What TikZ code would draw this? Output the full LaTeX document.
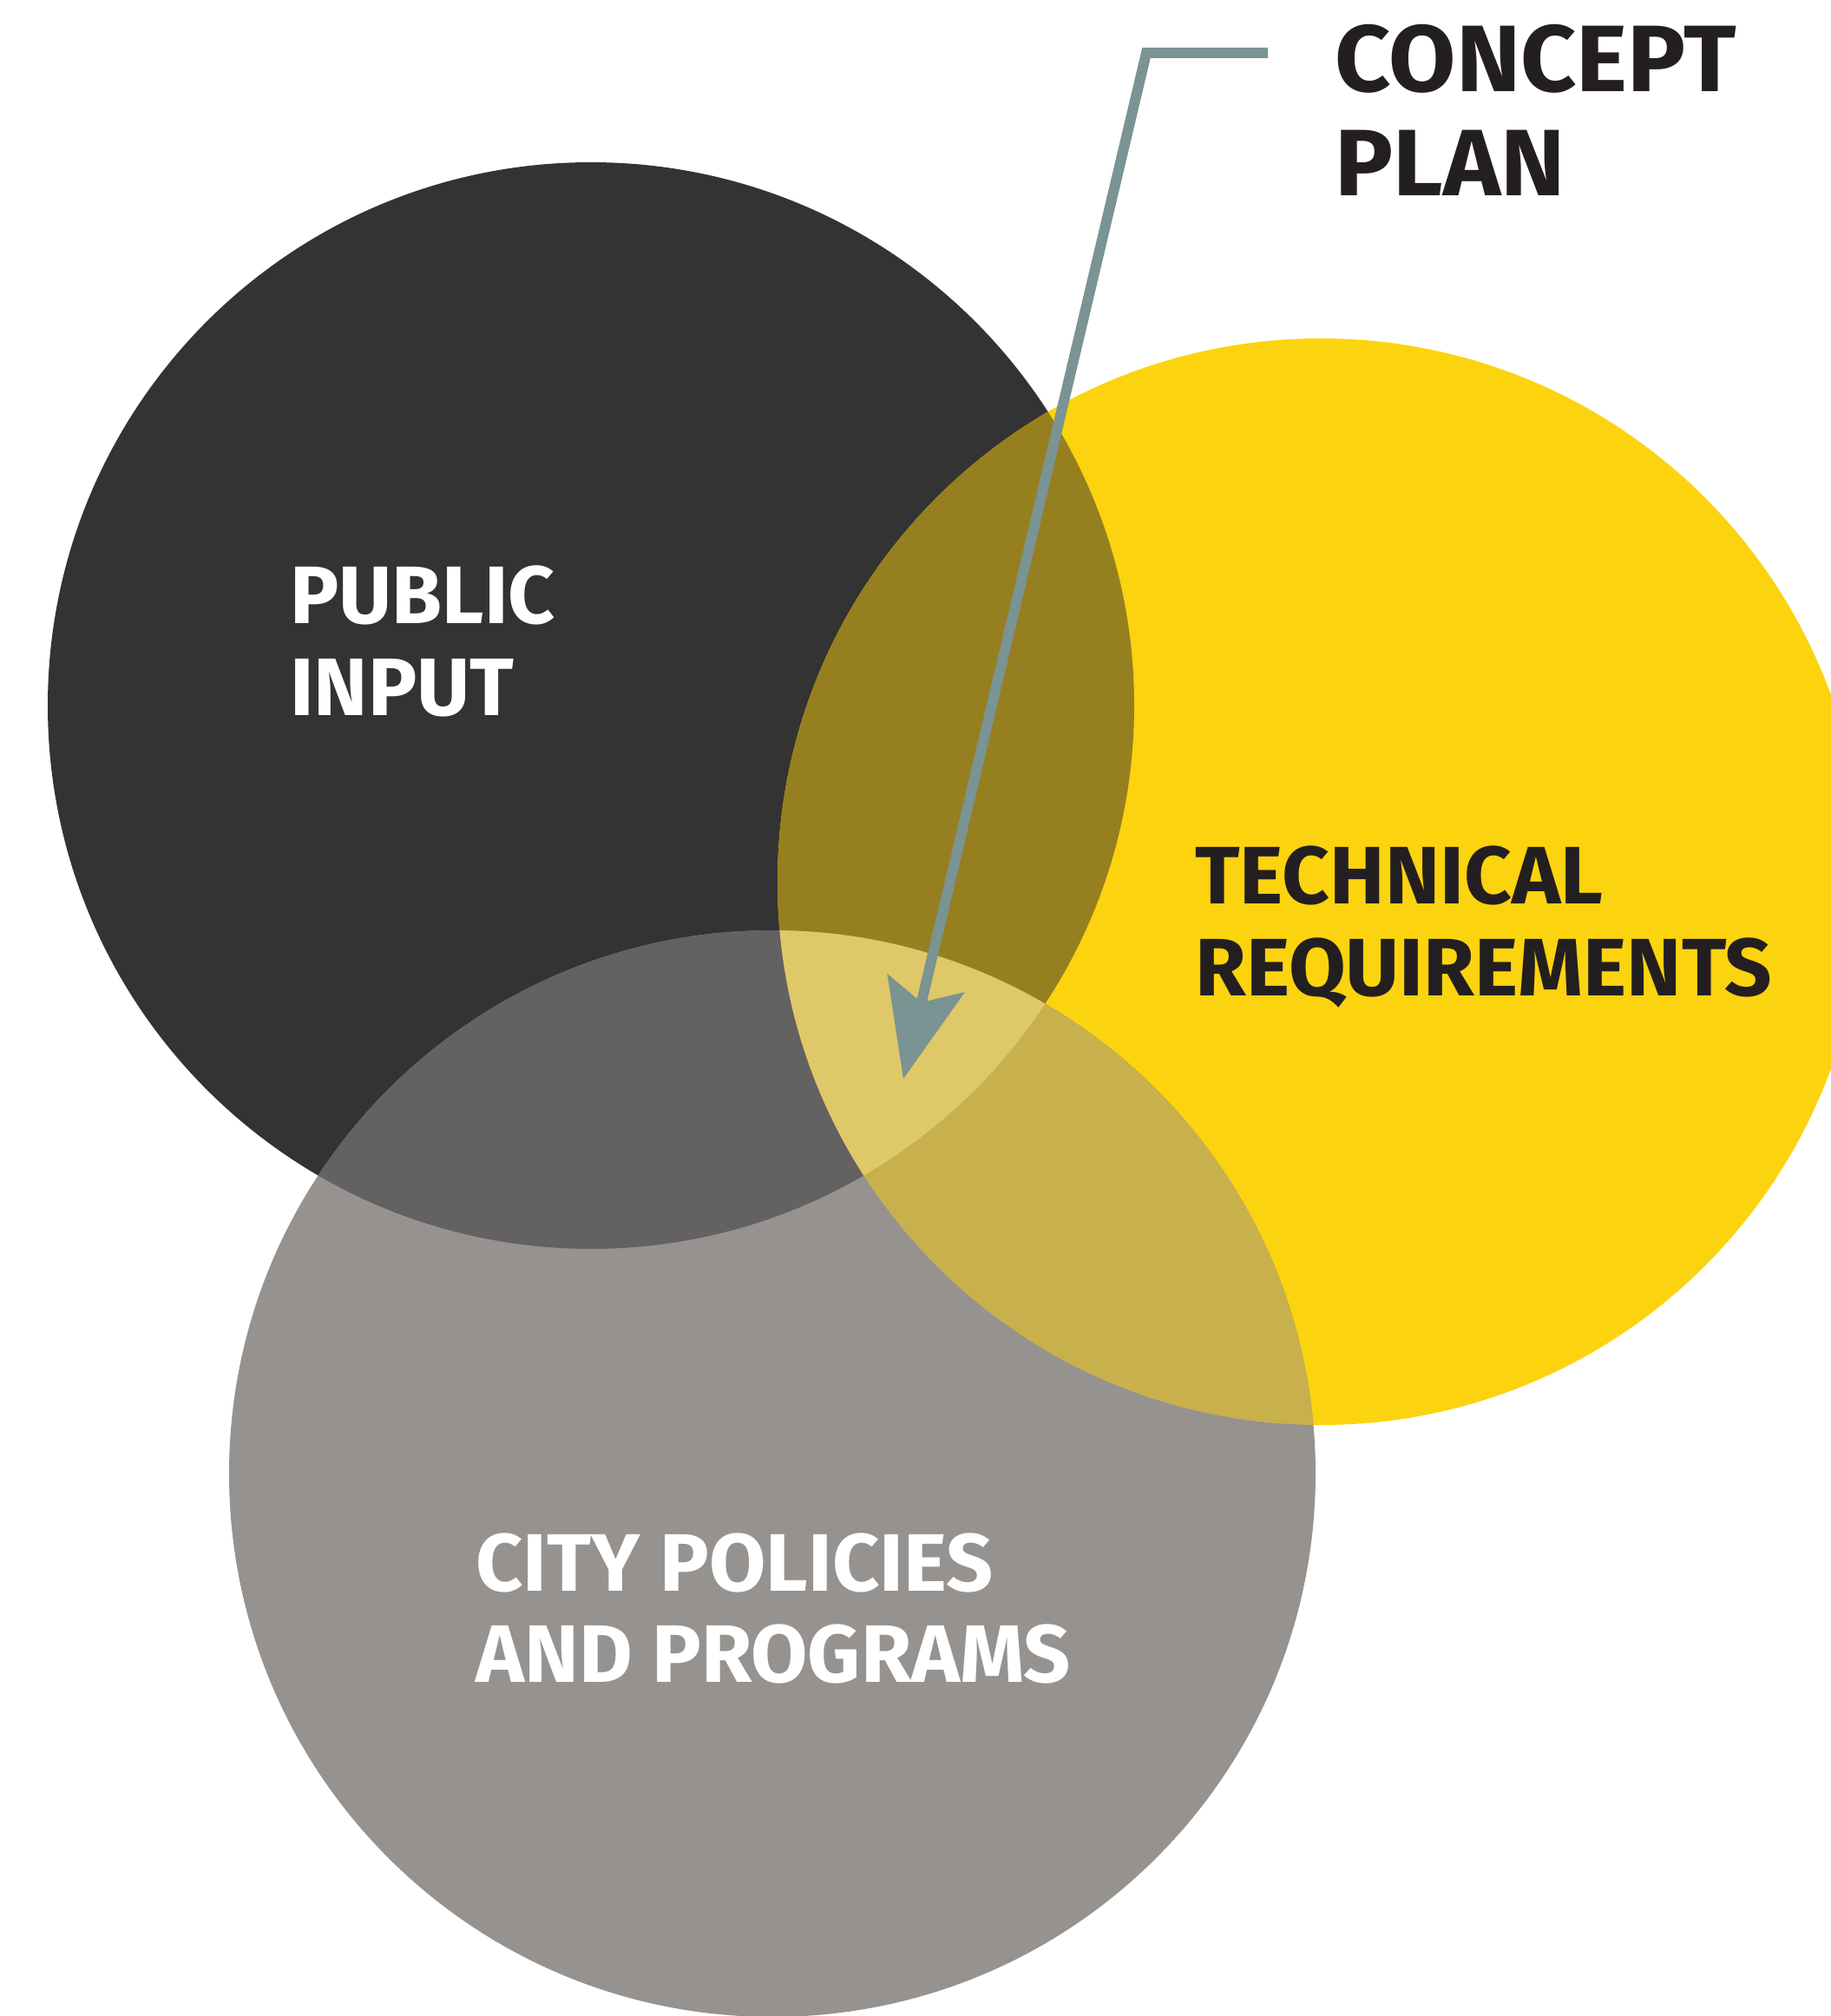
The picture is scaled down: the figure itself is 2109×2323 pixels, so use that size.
\documentclass[tikz,border=0pt]{standalone}
\usepackage{graphicx}
\usepackage{fontspec}
\setmainfont{Fira Sans}
\usetikzlibrary{arrows.meta}
\definecolor{cdark}{HTML}{333333}
\definecolor{cyel}{HTML}{FCD30F}
\definecolor{cgray}{HTML}{959290}
\definecolor{cDY}{HTML}{967F1F}
\definecolor{cDG}{HTML}{636161}
\definecolor{cYG}{HTML}{C8B04C}
\definecolor{cAll}{HTML}{DFC868}
\definecolor{carrow}{HTML}{7A9393}
\definecolor{ctext}{HTML}{231F20}
\newcommand{\widen}[2]{\scalebox{#1}[1]{#2}}
\begin{document}
\begin{tikzpicture}[x=0.5pt,y=-0.5pt,
  lbl/.style={inner sep=0pt, anchor=base west, font=\bfseries\fontsize{47}{53}\selectfont},
  biglbl/.style={inner sep=0pt, anchor=base west, font=\bfseries\fontsize{54.4}{60}\selectfont, text=ctext},
  pointer/.style={draw=carrow, line width=6pt, line join=miter,
    -{Stealth[length=56.75pt,width=46pt,inset=11.5pt,line width=0pt]}}]
\useasboundingbox (0,0) rectangle (2109,2323);
\def\circA{(681,813) circle[radius=626]}
\def\circB{(1522,1016) circle[radius=626]}
\def\circC{(890,1698) circle[radius=626]}
\fill[cdark] \circA;
\fill[cyel] \circB;
\fill[cgray] \circC;
\begin{scope}\clip \circA; \fill[cDY] \circB; \end{scope}
\begin{scope}\clip \circA; \fill[cDG] \circC; \end{scope}
\begin{scope}\clip \circB; \fill[cYG] \circC; \end{scope}
\begin{scope}\clip \circA; \clip \circB; \fill[cAll] \circC; \end{scope}
% labels
\node[lbl, text=white] (pub1) at (334,718) {PUBLIC};
\node[lbl, text=white] (pub2) at (334,824) {INPUT};
\node[lbl, text=ctext] (tech1) at (1377,1041) {\widen{1.014}{TECHNICAL}};
\node[lbl, text=ctext] (tech2) at (1377,1147) {\widen{1.014}{REQUIREMENTS}};
\node[lbl, text=white] (city1) at (548,1833) {\widen{1.008}{CITY POLICIES}};
\node[lbl, text=white] (city2) at (548,1938) {\widen{1.008}{AND PROGRAMS}};
\node[biglbl] (cp1) at (1538,105) {\widen{1.03}{CONCEPT}};
\node[biglbl] (cp2) at (1538,225) {\widen{1.03}{PLAN}};
% pointer
\coordinate (lineStart) at (1461,61);
\coordinate (bend) at (1321,61);
\coordinate (tip) at (1041,1243);
\draw[pointer] (lineStart) -- (bend) -- (tip);
\end{tikzpicture}
\end{document}
